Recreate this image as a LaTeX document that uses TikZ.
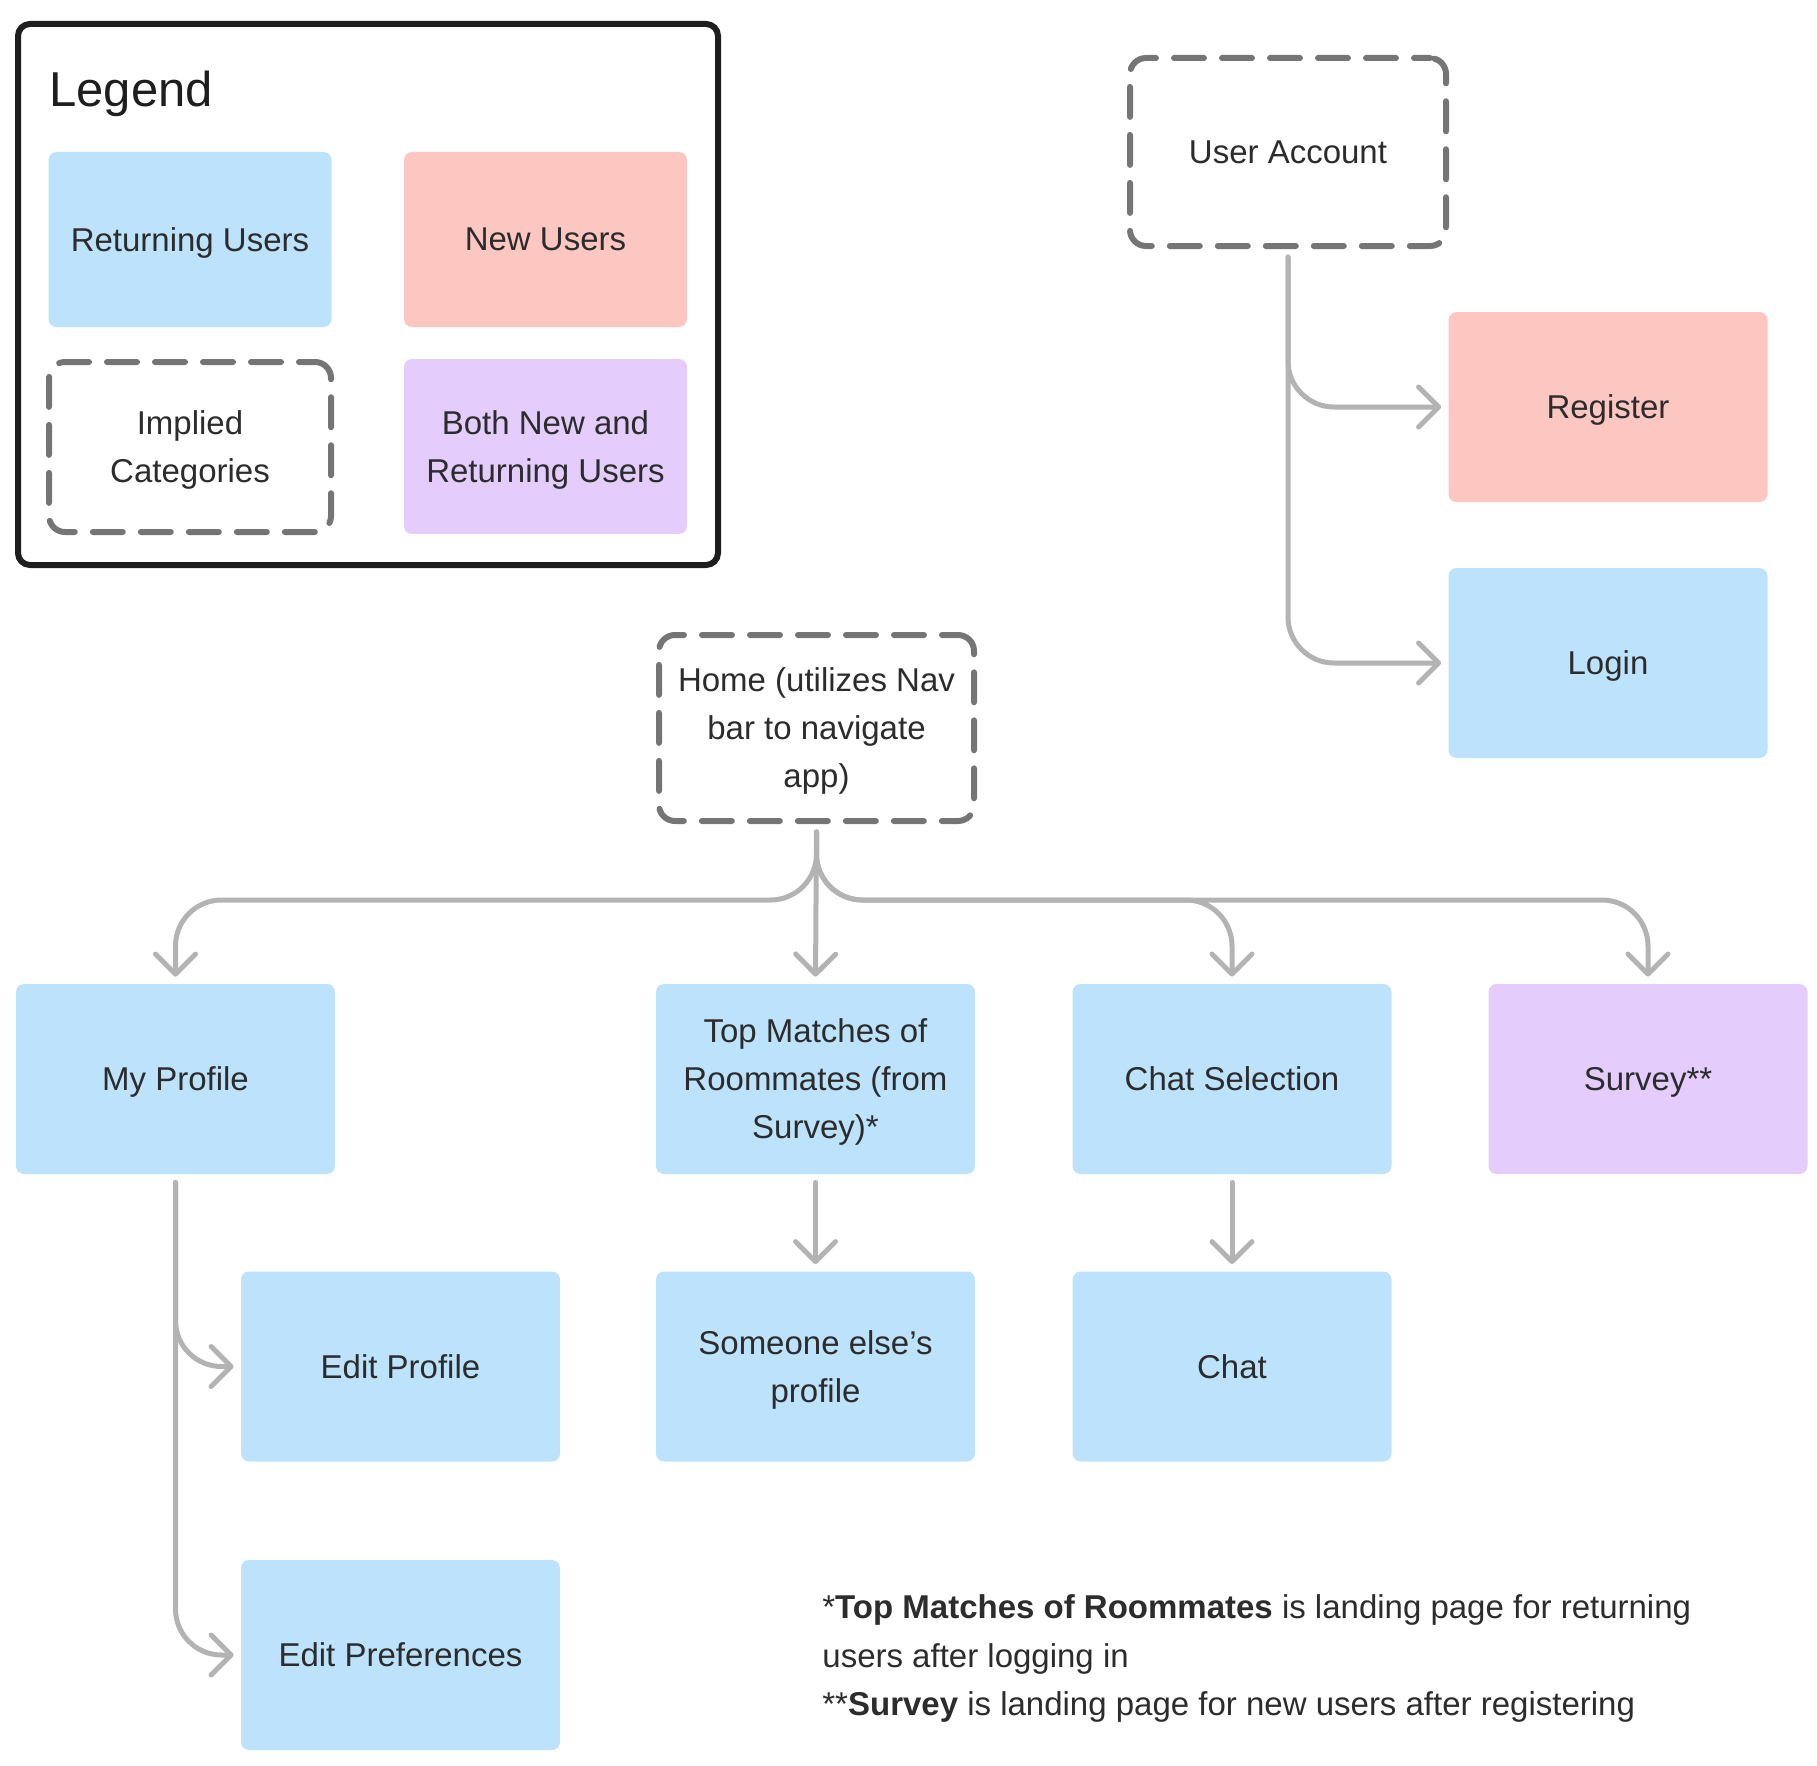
\documentclass[tikz,border=0pt]{standalone}
\usepackage{fontspec}
\setmainfont{Liberation Sans}
\usetikzlibrary{arrows.meta}

\definecolor{retblue}{HTML}{BDE3FC}
\definecolor{newpink}{HTML}{FCC7C1}
\definecolor{bothpurple}{HTML}{E4CCFC}
\definecolor{dashgray}{HTML}{757575}
\definecolor{linkgray}{HTML}{B3B3B3}
\definecolor{txt}{HTML}{2C2C2C}
\definecolor{framecol}{HTML}{1E1E1E}

\tikzset{
  card/.style={rectangle, rounded corners=4pt, minimum width=159.5pt,
    minimum height=95pt, align=center, inner sep=0pt, text depth=0pt},
  legcard/.style={card, minimum width=141.5pt, minimum height=87.5pt},
  ret/.style={fill=retblue},
  newu/.style={fill=newpink},
  both/.style={fill=bothpurple},
  implied/.style={draw=dashgray, line width=3pt, dash pattern=on 15pt off 9pt,
    dash phase=7pt, line cap=round, rounded corners=8pt},
  link/.style={draw=linkgray, line width=2.5pt, rounded corners=23pt,
    line cap=round, -{Straight Barb[length=10pt,width=20pt,round]},
    shorten <=4pt, shorten >=3.5pt},
  note/.style={anchor=base west, inner sep=0pt}
}

\begin{document}
\begin{tikzpicture}[x=0.5pt,y=-0.5pt,
  every node/.style={text=txt, font=\fontsize{16.5pt}{24pt}\selectfont}]
\useasboundingbox (0,0) rectangle (1817,1766);

% legend frame
\draw[framecol, line width=3pt, rounded corners=6pt] (18,24) rectangle (718,565);
\node[anchor=base west, inner sep=0pt, text=framecol,
  font=\fontsize{24.5pt}{30pt}\selectfont] (legtitle) at (49,107) {Legend};
\node[legcard, ret] (lret) at (190,239.5) {Returning Users};
\node[legcard, newu] (lnew) at (545.5,239.5) {New Users};
\node[legcard, implied, minimum width=141pt, minimum height=85pt] (limp) at (190,447) {Implied\\Categories};
\node[legcard, both] (lboth) at (545.5,446.5) {Both New and\\Returning Users};

% account entry
\node[card, implied, minimum width=158pt, minimum height=94pt] (ua) at (1288,152) {User Account};
\node[card, newu] (reg) at (1608,407) {Register};
\node[card, ret] (login) at (1608,663) {Login};

% home and its pages
\node[card, implied, minimum width=157.5pt, minimum height=93pt] (home) at (816.5,728) {Home (utilizes Nav\\bar to navigate\\app)};
\node[card, ret] (mp) at (175.5,1079) {My Profile};
\node[card, ret] (tm) at (815.5,1079) {Top Matches of\\Roommates (from\\Survey)*};
\node[card, ret] (cs) at (1232,1079) {Chat Selection};
\node[card, both] (sv) at (1648,1079) {Survey**};
\node[card, ret] (ep) at (400.5,1366.5) {Edit Profile};
\node[card, ret] (so) at (815.5,1366.5) {Someone else’s\\profile};
\node[card, ret] (chat) at (1232,1366.5) {Chat};
\node[card, ret] (epref) at (400.5,1655) {Edit Preferences};

\coordinate (bus) at (816.5,900);

% connectors
\draw[link] (ua.south) |- (reg.west);
\draw[link] (ua.south) |- (login.west);

\draw[link] (home.south) -- (tm.north);
\draw[link] (home.south) -- (home.south |- bus) -- (mp.north |- bus) -- (mp.north);
\draw[link] (home.south) -- (home.south |- bus) -- (cs.north |- bus) -- (cs.north);
\draw[link] (home.south) -- (home.south |- bus) -- (sv.north |- bus) -- (sv.north);

\draw[link] (mp.south) |- (ep.west);
\draw[link] (mp.south) |- (epref.west);
\draw[link] (tm.south) -- (so.north);
\draw[link] (cs.south) -- (chat.north);

% footnotes
\node[note] (n1) at (822,1618) {*\textbf{Top Matches of Roommates} is landing page for returning};
\node[note] (n2) at (822,1667) {users after logging in};
\node[note] (n3) at (822,1715) {**\textbf{Survey} is landing page for new users after registering};
\end{tikzpicture}
\end{document}
